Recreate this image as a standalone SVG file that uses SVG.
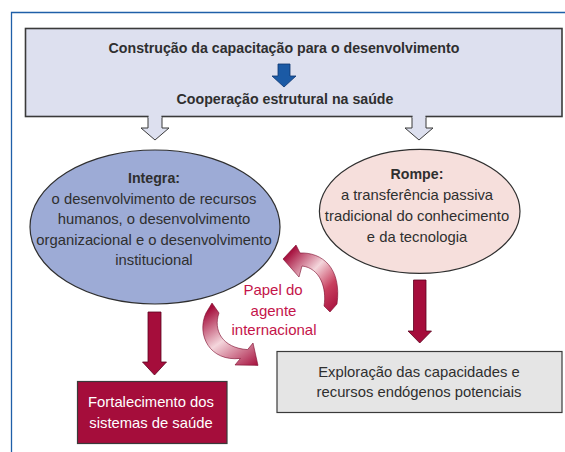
<svg xmlns="http://www.w3.org/2000/svg" width="565" height="452" viewBox="0 0 565 452">
<defs>
<style>
.t{font-family:"Liberation Sans",Arial,sans-serif;font-size:14.8px;fill:#2f2f2f;text-anchor:middle}
.b{font-weight:bold;font-size:14.2px}
.w{fill:#ffffff}
.p{fill:#c4144a;font-size:15px}
.red{fill:#a50d3b;stroke:#5c0320;stroke-width:0.8}
.hol{fill:#dde0ef;stroke:#3a3a3a;stroke-width:1}
</style>
<linearGradient id="g1" gradientUnits="userSpaceOnUse" x1="284" y1="258" x2="338" y2="310">
<stop offset="0" stop-color="#a50d3b"/>
<stop offset="0.4" stop-color="#f4d6dc"/>
<stop offset="0.7" stop-color="#c8405f"/>
<stop offset="1" stop-color="#a50d3b"/>
</linearGradient>
<linearGradient id="g2" gradientUnits="userSpaceOnUse" x1="215" y1="305" x2="258" y2="366">
<stop offset="0" stop-color="#a50d3b"/>
<stop offset="0.45" stop-color="#f4d6dc"/>
<stop offset="1" stop-color="#a50d3b"/>
</linearGradient>
</defs>

<g id="frame" fill="none" stroke="#1f5fa8" stroke-width="1.3">
<path d="M11.5 452 V12.5 H565"/>
</g>

<g id="top-box">
<rect x="25.5" y="28.5" width="536.5" height="88" fill="#dde0ef" stroke="#3a3a3a" stroke-width="1.6"/>
<text class="t b" x="284" y="53">Construção da capacitação para o desenvolvimento</text>
<polygon points="278,64 290,64 290,76 296,76 284,87 272,76 278,76" fill="#1b5aa5" stroke="#0d3570" stroke-width="0.8"/>
<text class="t b" x="285" y="104">Cooperação estrutural na saúde</text>
</g>

<g id="connectors">
<polygon class="hol" points="148,116.5 148,128 141,128 155,140 169,128 162,128 162,116.5"/>
<rect x="148.6" y="114" width="12.8" height="4" fill="#dde0ef"/>
<polygon class="hol" points="412,116.5 412,128 405,128 419,140 433,128 426,128 426,116.5"/>
<rect x="412.6" y="114" width="12.8" height="4" fill="#dde0ef"/>
<polygon class="red" points="148,312 161,312 161,362 166.5,362 154.5,375 142.5,362 148,362"/>
<polygon class="red" points="413.5,280 426,280 426,331 431.5,331 419.75,343 408,331 413.5,331"/>
<path d="M330 312 L324 306 C327 288 320 268 302 266 L299 277 L283 259 L296 245 L300 253 C322 252 342 268 337 304 Z" fill="url(#g1)" stroke="#7a0a2c" stroke-width="0.6"/>
<path d="M212 303 L219 313 C213 330 222 348 247.6 349.6 L253 343 L258 365.4 L235 365 L240.4 358.4 C210 362 196 335 206 313 Z" fill="url(#g2)" stroke="#7a0a2c" stroke-width="0.6"/>
</g>

<g id="integra">
<ellipse cx="155" cy="227" rx="125" ry="77" fill="#9dabd6" stroke="#2f2f2f" stroke-width="1.2"/>
<text class="t b" x="154" y="183">Integra:</text>
<text class="t" x="154" y="203.5">o desenvolvimento de recursos</text>
<text class="t" x="154" y="224">humanos, o desenvolvimento</text>
<text class="t" x="154" y="244.5">organizacional e o desenvolvimento</text>
<text class="t" x="154" y="265">institucional</text>
</g>

<g id="rompe">
<ellipse cx="419.7" cy="211.3" rx="100.3" ry="62" fill="#f6dfdc" stroke="#2f2f2f" stroke-width="1.2"/>
<text class="t b" x="417" y="179">Rompe:</text>
<text class="t" x="417" y="200">a transferência passiva</text>
<text class="t" x="417" y="221">tradicional do conhecimento</text>
<text class="t" x="417" y="241.5">e da tecnologia</text>
</g>

<g id="papel">
<text class="t p" x="273" y="295">Papel do</text>
<text class="t p" x="273.5" y="315.5">agente</text>
<text class="t p" x="274" y="335">internacional</text>
</g>

<g id="fortalecimento">
<rect x="77.5" y="381.5" width="149.5" height="62" fill="#a50d3b" stroke="#3a3a3a" stroke-width="1.2"/>
<text class="t w" x="151" y="406.5">Fortalecimento dos</text>
<text class="t w" x="151" y="428">sistemas de saúde</text>
</g>

<g id="exploracao">
<rect x="277" y="351.5" width="285" height="61" fill="#e5e5e5" stroke="#3a3a3a" stroke-width="1.2"/>
<text class="t" x="419" y="376.5">Exploração das capacidades e</text>
<text class="t" x="419" y="396.5">recursos endógenos potenciais</text>
</g>
</svg>
